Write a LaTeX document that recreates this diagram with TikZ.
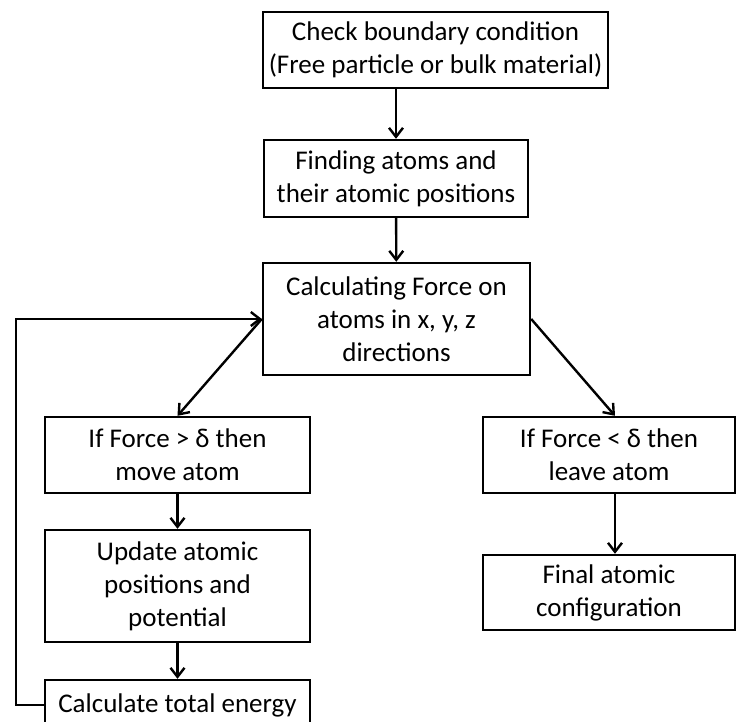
\documentclass[tikz,border=0pt]{standalone}
\usepackage{fontspec}
\setmainfont{Carlito}
\usetikzlibrary{arrows.meta}

\begin{document}
\begin{tikzpicture}[x=0.5pt,y=-0.5pt,
  >={Straight Barb[length=4.5pt,width=7pt]},
  every path/.style={line width=1.2pt},
  box/.style={draw, line width=1.2pt, align=center, inner sep=0pt,
    font=\fontsize{13.5}{16.5}\selectfont},
  wide/.style={box, minimum width=132.5pt}]
  \useasboundingbox (0,0) rectangle (736,722);
  \node[box, minimum width=172.5pt, minimum height=38pt] (check) at (435.5,50)
    {Check boundary condition\\(Free particle or bulk material)};
  \node[box, minimum width=132pt, minimum height=38.5pt] (find) at (396,178.5)
    {Finding atoms and\\their atomic positions};
  \node[box, minimum width=133.5pt, minimum height=56pt] (calc) at (396.5,319)
    {Calculating Force on\\atoms in x, y, z\\directions};
  \node[wide, minimum height=38pt] (gt) at (177.5,455)
    {If Force > δ then\\move atom};
  \node[wide, minimum height=56pt] (update) at (177.5,586)
    {Update atomic\\positions and\\potential};
  \node[wide, minimum height=25pt] (energy) at (177.5,705)
    {Calculate total energy};
  \node[box, minimum width=126pt, minimum height=38pt] (lt) at (609,455)
    {If Force < δ then\\leave atom};
  \node[box, minimum width=126pt, minimum height=37.5pt] (final) at (609,592.5)
    {Final atomic\\configuration};
  \draw[->] (find.north |- check.south) -- (find.north);
  \draw[->] (find) -- (calc);
  \draw[->] (calc.west) -- (gt.north);
  \draw[->] (calc.east) -- ([xshift=3pt]lt.north);
  \draw[->] (gt) -- (update);
  \draw[->] (update) -- (energy);
  \draw[->] ([xshift=3pt]lt.south) -- ([xshift=3pt]final.north);
  \draw[->] (energy.west) -- ++(-28,0) |- (calc.west);
\end{tikzpicture}
\end{document}
